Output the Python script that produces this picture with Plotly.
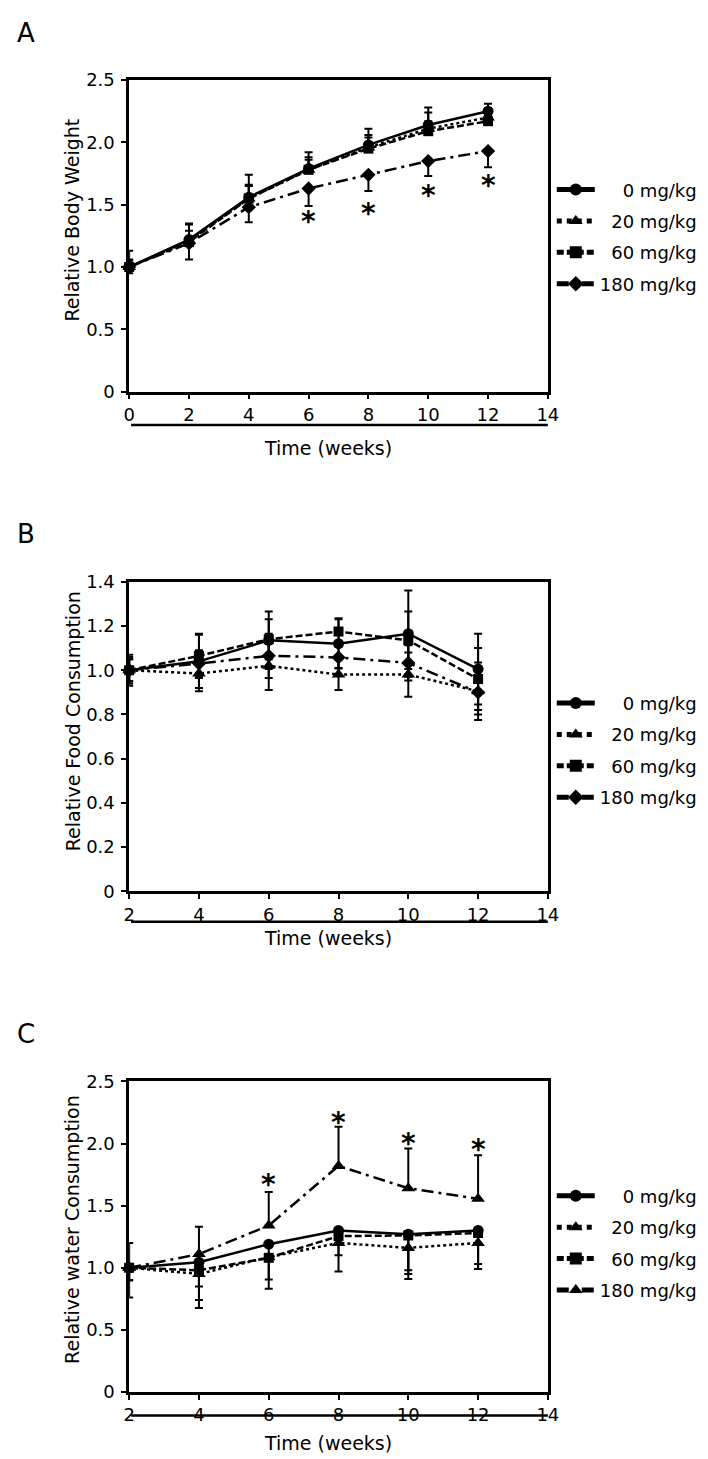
import plotly.graph_objects as go

# ---------------- data ----------------
groups = ["0 mg/kg", "20 mg/kg", "60 mg/kg", "180 mg/kg"]
legend_labels = ["\u2007\u20070 mg/kg", "\u200720 mg/kg", "\u200760 mg/kg", "180 mg/kg"]

# Panel A: relative body weight
weeks_A = [0, 2, 4, 6, 8, 10, 12]
bw_0 = [1.00, 1.22, 1.56, 1.79, 1.98, 2.14, 2.25]
bw_20 = [1.00, 1.21, 1.55, 1.78, 1.96, 2.11, 2.20]
bw_60 = [1.00, 1.20, 1.55, 1.78, 1.95, 2.09, 2.17]
bw_180 = [1.00, 1.19, 1.48, 1.63, 1.74, 1.85, 1.93]
bw_0_up = [0.13, 0.12, 0.18, 0.13, 0.08, 0.10, 0.06]
bw_20_up = [0.05, 0.08, 0.10, 0.08, 0.08, 0.06, 0.05]
bw_60_up = [0.06, 0.15, 0.11, 0.10, 0.16, 0.19, 0.05]
bw_180_dn = [0.05, 0.13, 0.12, 0.14, 0.13, 0.12, 0.13]
star_A_weeks = [6, 8, 10, 12]
star_A_y = [1.41, 1.48, 1.625, 1.70]

# Panel B: relative food consumption
weeks_B = [2, 4, 6, 8, 10, 12]
fc_0 = [1.00, 1.04, 1.135, 1.12, 1.165, 1.005]
fc_20 = [1.00, 0.985, 1.02, 0.98, 0.98, 0.905]
fc_60 = [1.00, 1.065, 1.14, 1.175, 1.135, 0.96]
fc_180 = [1.00, 1.03, 1.065, 1.058, 1.033, 0.90]
fc_0_err = [0.05, 0.12, 0.13, 0.11, 0.195, 0.16]
fc_20_err = [0.06, 0.08, 0.11, 0.07, 0.10, 0.13]
fc_60_err = [0.07, 0.10, 0.09, 0.06, 0.13, 0.14]
fc_180_err = [0.05, 0.06, 0.10, 0.05, 0.08, 0.10]

# Panel C: relative water consumption
weeks_C = [2, 4, 6, 8, 10, 12]
wc_0 = [1.00, 1.045, 1.19, 1.30, 1.27, 1.30]
wc_20 = [1.00, 0.95, 1.085, 1.20, 1.16, 1.20]
wc_60 = [1.00, 0.98, 1.08, 1.255, 1.26, 1.28]
wc_180 = [1.00, 1.11, 1.34, 1.82, 1.64, 1.555]
wc_0_dn = [0.24, 0.305, 0.10, 0.10, 0.36, 0.31]
wc_20_dn = [0.10, 0.275, 0.18, 0.10, 0.18, 0.17]
wc_60_dn = [0.10, 0.13, 0.25, 0.285, 0.31, 0.29]
wc_180_up = [0.20, 0.22, 0.27, 0.315, 0.32, 0.35]
star_C_weeks = [6, 8, 10, 12]
star_C_y = [1.72, 2.22, 2.05, 2.00]

yticks_25 = [0, 0.5, 1.0, 1.5, 2.0, 2.5]
yticks_25_text = ["0", "0.5", "1.0", "1.5", "2.0", "2.5"]
yticks_14 = [0, 0.2, 0.4, 0.6, 0.8, 1.0, 1.2, 1.4]
yticks_14_text = ["0", "0.2", "0.4", "0.6", "0.8", "1.0", "1.2", "1.4"]
xticks_A = [0, 2, 4, 6, 8, 10, 12, 14]
xticks_BC = [2, 4, 6, 8, 10, 12, 14]

# ---------------- styling ----------------
W, H = 708, 1459
FONT = "DejaVu Sans"
def px(x):
    return x / W
def py(y):
    return 1 - y / H

styles = {
    "0 mg/kg": dict(dash="solid", symbol="circle", size=11),
    "20 mg/kg": dict(dash="dot", symbol="triangle-up", size=12),
    "60 mg/kg": dict(dash="7px,3px", symbol="square", size=10),
    "180 mg/kg": dict(dash="12px,5px,3px,5px", symbol="diamond", size=11),
}
label_of = dict(zip(groups, legend_labels))

fig = go.Figure()

def add_series(xs, ys, up, dn, name, xa, ya, legend, symbol=None, size=None):
    st = styles[name]
    fig.add_trace(go.Scatter(
        x=xs, y=ys, name=label_of[name], mode="lines+markers",
        line=dict(color="black", width=2.5, dash=st["dash"]),
        marker=dict(color="black", size=size or st["size"], symbol=symbol or st["symbol"]),
        error_y=dict(type="data", symmetric=False, array=up, arrayminus=dn,
                     color="black", thickness=2, width=4),
        xaxis=xa, yaxis=ya, legend=legend, legendgroup=legend + name,
        cliponaxis=False,
    ))

zeros7 = [0] * 7
zeros6 = [0] * 6
# A
add_series(weeks_A, bw_0, bw_0_up, zeros7, "0 mg/kg", "x", "y", "legend")
add_series(weeks_A, bw_20, bw_20_up, zeros7, "20 mg/kg", "x", "y", "legend")
add_series(weeks_A, bw_60, bw_60_up, zeros7, "60 mg/kg", "x", "y", "legend")
add_series(weeks_A, bw_180, zeros7, bw_180_dn, "180 mg/kg", "x", "y", "legend")
# B
add_series(weeks_B, fc_0, fc_0_err, fc_0_err, "0 mg/kg", "x2", "y2", "legend2")
add_series(weeks_B, fc_20, fc_20_err, fc_20_err, "20 mg/kg", "x2", "y2", "legend2")
add_series(weeks_B, fc_60, fc_60_err, fc_60_err, "60 mg/kg", "x2", "y2", "legend2")
add_series(weeks_B, fc_180, fc_180_err, fc_180_err, "180 mg/kg", "x2", "y2", "legend2")
# C
add_series(weeks_C, wc_0, zeros6, wc_0_dn, "0 mg/kg", "x3", "y3", "legend3")
add_series(weeks_C, wc_20, zeros6, wc_20_dn, "20 mg/kg", "x3", "y3", "legend3")
add_series(weeks_C, wc_60, zeros6, wc_60_dn, "60 mg/kg", "x3", "y3", "legend3")
add_series(weeks_C, wc_180, wc_180_up, zeros6, "180 mg/kg", "x3", "y3", "legend3",
           symbol="triangle-up", size=12)

annotations = []
star_font = dict(family=FONT, size=28, color="black")
for wk, yv in zip(star_A_weeks, star_A_y):
    annotations.append(dict(x=wk, y=yv, xref="x", yref="y", text="<b>*</b>", showarrow=False,
                            xanchor="center", yanchor="middle", font=star_font, yshift=-6))
for wk, yv in zip(star_C_weeks, star_C_y):
    annotations.append(dict(x=wk, y=yv, xref="x3", yref="y3", text="<b>*</b>", showarrow=False,
                            xanchor="center", yanchor="middle", font=star_font, yshift=-6))

# axis titles & panel letters
ytitles = [("Relative Body Weight", 204), ("Relative Food Consumption", 713),
           ("Relative water Consumption", 1228)]
for txt, yc in ytitles:
    annotations.append(dict(x=px(60), y=py(yc), xref="paper", yref="paper", text=txt,
                            textangle=-90, showarrow=False, xanchor="center", yanchor="middle",
                            font=dict(family=FONT, size=19, color="black")))
for yc in [435, 932, 1445]:
    annotations.append(dict(x=px(322), y=py(yc), xref="paper", yref="paper",
                            text="Time (weeks)", showarrow=False,
                            xanchor="center", yanchor="middle",
                            font=dict(family=FONT, size=19, color="black")))
for letter, yc in [("A", 14), ("B", 523), ("C", 1030)]:
    annotations.append(dict(x=px(1), y=py(yc), xref="paper", yref="paper", text=letter,
                            xanchor="left", yanchor="middle", showarrow=False,
                            font=dict(family=FONT, size=26, color="black")))

shapes = []
for yl in [412, 916, 1417]:
    shapes.append(dict(type="line", xref="paper", yref="paper", x0=px(120), x1=px(547),
                       y0=py(yl), y1=py(yl), line=dict(color="black", width=2.5)))

xdom = [px(118), px(547)]
doms = {"A": [py(378), py(62)], "B": [py(885), py(571)], "C": [py(1393), py(1078)]}

axis_common = dict(showline=True, linecolor="black", linewidth=2.5, mirror=True,
                   ticks="outside", tickcolor="black", tickwidth=2, ticklen=5,
                   showgrid=False, zeroline=False,
                   tickfont=dict(family=FONT, size=18, color="black"))
yaxis_extra = dict(ticklabelstandoff=3)

legend_common = dict(font=dict(family=FONT, size=18, color="black"), bgcolor="rgba(0,0,0,0)",
                     x=px(551), xanchor="left", yanchor="middle", tracegroupgap=5,
                     itemsizing="constant", itemwidth=38)

fig.update_layout(
    width=W, height=H, margin=dict(l=0, r=0, t=0, b=0),
    paper_bgcolor="white", plot_bgcolor="white",
    xaxis=dict(domain=xdom, anchor="y", range=[0, 14], tickvals=xticks_A, **axis_common),
    yaxis=dict(domain=doms["A"], anchor="x", range=[0, 2.5], tickvals=yticks_25,
               ticktext=yticks_25_text, **axis_common, **yaxis_extra),
    xaxis2=dict(domain=xdom, anchor="y2", range=[2, 14], tickvals=xticks_BC, **axis_common),
    yaxis2=dict(domain=doms["B"], anchor="x2", range=[0, 1.4], tickvals=yticks_14,
                ticktext=yticks_14_text, **axis_common, **yaxis_extra),
    xaxis3=dict(domain=xdom, anchor="y3", range=[2, 14], tickvals=xticks_BC, **axis_common),
    yaxis3=dict(domain=doms["C"], anchor="x3", range=[0, 2.5], tickvals=yticks_25,
                ticktext=yticks_25_text, **axis_common, **yaxis_extra),
    legend=dict(y=py(221), **legend_common),
    legend2=dict(y=py(742), **legend_common),
    legend3=dict(y=py(1242), **legend_common),
    annotations=annotations, shapes=shapes, showlegend=True,
)

fig.write_html("out.html")
